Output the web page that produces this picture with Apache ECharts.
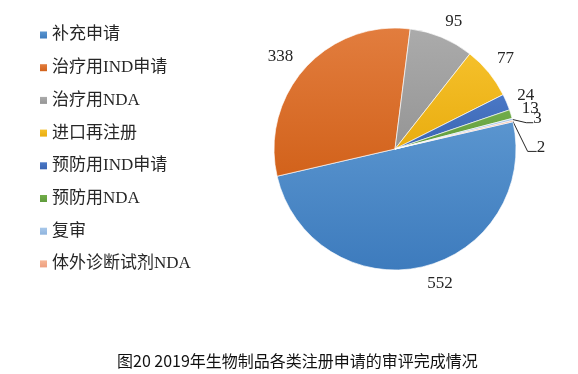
<!DOCTYPE html>
<html><head><meta charset="utf-8">
<script src="https://cdn.jsdelivr.net/npm/echarts@6/dist/echarts.min.js"></script>
<style>html,body{margin:0;padding:0;background:#fff}#c{width:578px;height:374px}</style>
</head><body><div id="c"></div>
<script>
// ---- data ----
const categories = ['补充申请', '治疗用IND申请', '治疗用NDA', '进口再注册', '预防用IND申请', '预防用NDA', '复审', '体外诊断试剂NDA'];
const values = [552, 338, 95, 77, 24, 13, 3, 2];
const titleText = '图20 2019年生物制品各类注册申请的审评完成情况';

// ---- style ----
const topColors = ['#5a95cf', '#e27d3e', '#ababab', '#f5c02a', '#4a78c6', '#72ad4a', '#a8c8ea', '#f6b696'];
const bottomColors = ['#3d7bbd', '#d2621b', '#959595', '#e9ad10', '#3b65b2', '#609c3c', '#8fb4de', '#ee9f80'];
// label line lengths / distances per slice (Excel-like label placement)
const labelPlace = [
  { show: false, len: 17.5, len2: 0, dist: 1 },
  { show: false, len: 16.3, len2: 0, dist: 0 },
  { show: false, len: 16.7, len2: 0, dist: -3 },
  { show: false, len: 21.2, len2: 0, dist: -8 },
  { show: false, len: 16, len2: 0, dist: -4 },
  { show: false, len: 17.7, len2: 0, dist: -6 },
  { show: true, len: 3, len2: 15, dist: 3, shiftY: 0, run: 7, drop: 4 },
  { show: true, len: 3, len2: 9, dist: 12, shiftY: 27, run: 9, drop: 4 }
];

const pieData = categories.map((name, i) => ({
  name: name,
  value: values[i],
  itemStyle: {
    color: new echarts.graphic.LinearGradient(0, 0, 0, 1, [
      { offset: 0, color: topColors[i] },
      { offset: 1, color: bottomColors[i] }
    ])
  },
  label: { distanceToLabelLine: labelPlace[i].dist },
  labelLine: { show: labelPlace[i].show, length: labelPlace[i].len, length2: labelPlace[i].len2 }
}));

const chart = echarts.init(document.getElementById('c'), null, { renderer: 'canvas' });
chart.setOption({
  animation: false,
  backgroundColor: '#fff',
  title: {
    text: titleText,
    left: 117,
    top: 353,
    padding: 0,
    textStyle: { fontFamily: 'Noto Sans CJK SC', fontSize: 16, fontWeight: 'normal', color: '#111' }
  },
  legend: {
    orient: 'vertical',
    left: 35,
    top: 20,
    itemWidth: 7,
    itemHeight: 7,
    itemGap: 12.7,
    icon: 'rect',
    selectedMode: false,
    itemStyle: { borderWidth: 0 },
    data: categories,
    textStyle: { fontFamily: 'Liberation Serif, Noto Sans CJK SC', fontSize: 17, lineHeight: 20, color: '#262626' }
  },
  series: [{
    type: 'pie',
    center: [395, 149],
    radius: 121,
    startAngle: 13,
    clockwise: true,
    avoidLabelOverlap: false,
    itemStyle: { borderColor: 'rgba(255,255,255,0.8)', borderWidth: 0.8 },
    label: {
      show: true,
      position: 'outside',
      formatter: '{c}',
      fontFamily: 'Liberation Serif',
      fontSize: 17,
      color: '#262626'
    },
    labelLine: { lineStyle: { color: '#262626', width: 1 } },
    labelLayout: function (params) {
      const p = labelPlace[params.dataIndex];
      if (p && p.show && params.labelLinePoints) {
        const r = params.labelRect;
        const cy = r.y + r.height / 2 + p.shiftY;
        const anchor = params.labelLinePoints[0];
        const ly = cy + p.drop;
        return {
          y: cy,
          labelLinePoints: [
            [anchor[0], anchor[1]],
            [r.x - p.run, ly],
            [r.x, ly]
          ]
        };
      }
      return {};
    },
    emphasis: { disabled: true },
    data: pieData
  }]
});
</script>
</body></html>
